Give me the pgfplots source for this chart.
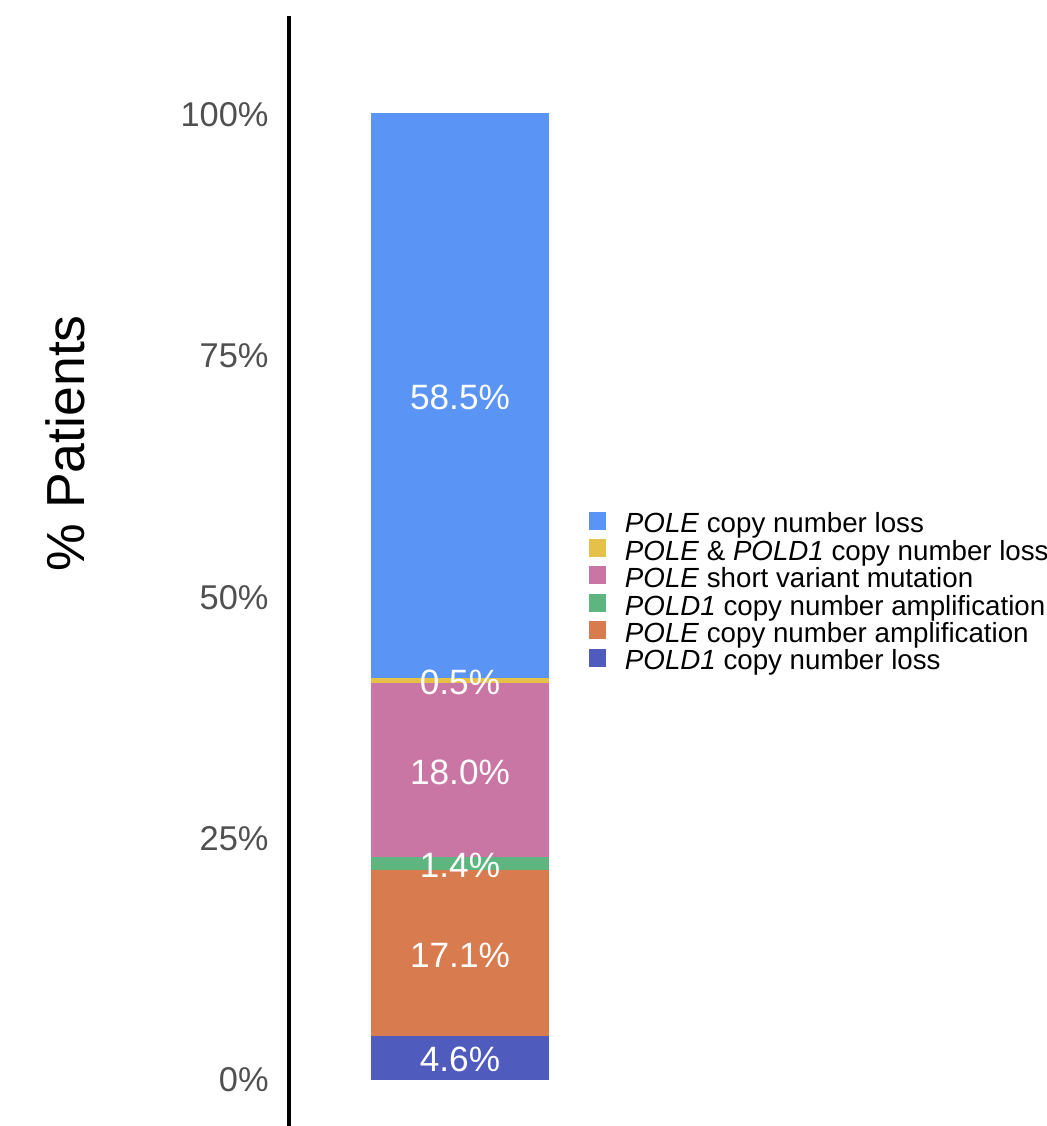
\documentclass[border=0pt]{standalone}
\usepackage{pgfplots}
\pgfplotsset{compat=1.18}
\usepackage{fontspec}
\setmainfont{Liberation Sans}

\definecolor{cPoleLoss}{RGB}{90,148,245}
\definecolor{cBothLoss}{RGB}{229,193,74}
\definecolor{cPoleSV}{RGB}{202,118,165}
\definecolor{cPoldAmp}{RGB}{94,181,127}
\definecolor{cPoleAmp}{RGB}{216,123,79}
\definecolor{cPoldLoss}{RGB}{80,91,190}
\definecolor{tickgrey}{RGB}{80,80,80}

\pgfplotsset{
  panel/.style={
    scale only axis, width=171pt, height=555pt,
    xmin=0, xmax=2, ymin=-4.76, ymax=110.18,
  },
}

\begin{document}
\begin{tikzpicture}
% stacked bar of alteration shares
\begin{axis}[
  panel,
  axis x line=none, axis y line=left,
  y axis line style={line width=1.65pt, -},
  ytick={0,25,50,75,100},
  yticklabels={0\%,25\%,50\%,75\%,100\%},
  major tick length=0pt,
  yticklabel style={font=\fontsize{17.2}{20}\selectfont, text=tickgrey, inner sep=0pt, xshift=-10pt},
  ylabel={\% Patients},
  ylabel style={font=\fontsize{26.8}{30}\selectfont, at={(axis description cs:-0.655,0.615)}, anchor=center},
  ybar stacked, bar width=89pt,
  reverse legend,
  legend cell align=left,
  legend style={draw=none, fill=none, at={(axis description cs:0.8772,0.5535)}, anchor=north west,
    inner sep=0pt, outer sep=0pt, row sep=0pt,
    font=\fontsize{13.85}{14}\selectfont,
    nodes={inner sep=0pt, text height=9.3pt, text depth=3.1pt},
    /tikz/every odd column/.append style={column sep=9.5pt}},
  legend image code/.code={\fill[#1] (0pt,-1.5pt) rectangle (8.5pt,7.5pt);},
]
\addplot[fill=cPoldLoss, draw=none] coordinates {(1,4.6)};
\addlegendentry{\textit{POLD1} copy number loss}
\addplot[fill=cPoleAmp, draw=none] coordinates {(1,17.1)};
\addlegendentry{\textit{POLE} copy number amplification}
\addplot[fill=cPoldAmp, draw=none] coordinates {(1,1.4)};
\addlegendentry{\textit{POLD1} copy number amplification}
\addplot[fill=cPoleSV, draw=none] coordinates {(1,18.0)};
\addlegendentry{\textit{POLE} short variant mutation}
\addplot[fill=cBothLoss, draw=none] coordinates {(1,0.5)};
\addlegendentry{\textit{POLE} \& \textit{POLD1} copy number loss}
\addplot[fill=cPoleLoss, draw=none] coordinates {(1,58.5)};
\addlegendentry{\textit{POLE} copy number loss}
\end{axis}
% value labels at the middle of each segment
\begin{axis}[
  panel, hide axis,
  nodes near coords, point meta=explicit symbolic,
  every node near coord/.append style={anchor=center, yshift=-1pt, text=white, font=\fontsize{17.6}{20}\selectfont},
]
\addplot[draw=none, mark=none] coordinates {
  (1,2.3) [4.6\%]
  (1,13.15) [17.1\%]
  (1,22.4) [1.4\%]
  (1,32.1) [18.0\%]
  (1,41.35) [0.5\%]
  (1,70.85) [58.5\%]
};
\end{axis}
\pgfresetboundingbox
\useasboundingbox (-144.5pt,0pt) rectangle (378.5pt,563pt);
\end{tikzpicture}
\end{document}
